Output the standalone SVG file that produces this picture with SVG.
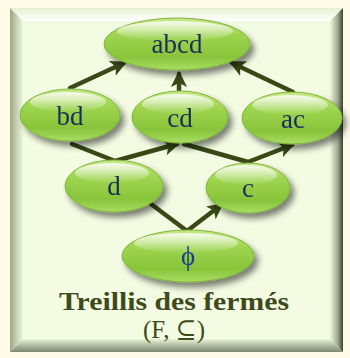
<svg xmlns="http://www.w3.org/2000/svg" width="350" height="358" viewBox="0 0 350 358">
  <style>
    .lbl { font-family: "Liberation Serif", "DejaVu Serif", serif; font-size: 27px; fill: #1c2a5c; text-anchor: middle; }
    .title { font-family: "Liberation Serif", "DejaVu Serif", serif; fill: #3e4a1c; text-anchor: middle; }
    .edge { stroke: #3a4816; stroke-width: 4.5; fill: none; stroke-linecap: round; stroke-linejoin: round; marker-end: url(#head); }
    .body { fill: url(#gBody); stroke: #7fb43a; stroke-width: 1; }
    .gloss { fill: url(#gGloss); }
  </style>
  <defs>
    <linearGradient id="gBody" x1="0" y1="0" x2="0" y2="1">
      <stop offset="0" stop-color="#c8ea88"/>
      <stop offset="0.3" stop-color="#a0d652"/>
      <stop offset="0.75" stop-color="#88c43a"/>
      <stop offset="1" stop-color="#aade64"/>
    </linearGradient>
    <linearGradient id="gGloss" x1="0" y1="0" x2="0" y2="1">
      <stop offset="0" stop-color="#ffffff" stop-opacity="0.85"/>
      <stop offset="1" stop-color="#ffffff" stop-opacity="0"/>
    </linearGradient>
    <linearGradient id="gTop" x1="0" y1="0" x2="0" y2="1">
      <stop offset="0" stop-color="#e8f0d0"/>
      <stop offset="1" stop-color="#ffffff"/>
    </linearGradient>
    <linearGradient id="gLeft" x1="0" y1="0" x2="1" y2="0">
      <stop offset="0" stop-color="#9aa888"/>
      <stop offset="1" stop-color="#eef8da"/>
    </linearGradient>
    <linearGradient id="gRight" x1="0" y1="0" x2="1" y2="0">
      <stop offset="0" stop-color="#eef8da"/>
      <stop offset="0.6" stop-color="#a0a890"/>
      <stop offset="1" stop-color="#3a4036"/>
    </linearGradient>
    <linearGradient id="gBottom" x1="0" y1="0" x2="0" y2="1">
      <stop offset="0" stop-color="#e8f2d4"/>
      <stop offset="1" stop-color="#7c8672"/>
    </linearGradient>
    <filter id="shadow" x="-20%" y="-30%" width="150%" height="170%">
      <feGaussianBlur in="SourceAlpha" stdDeviation="3"/>
      <feOffset dx="4" dy="5" result="b"/>
      <feComponentTransfer><feFuncA type="linear" slope="0.5"/></feComponentTransfer>
      <feMerge><feMergeNode/><feMergeNode in="SourceGraphic"/></feMerge>
    </filter>
    <marker id="head" viewBox="0 0 10 10" refX="8" refY="5" markerWidth="3.6" markerHeight="3.6" orient="auto" markerUnits="strokeWidth">
      <path d="M0,0 L10,5 L0,10 L2.5,5 Z" fill="#3a4816"/>
    </marker>
  </defs>

  <!-- page and bevelled panel -->
  <rect width="350" height="358" fill="#fefbe9"/>
  <rect x="10" y="8" width="333" height="344" fill="#f3fbe0"/>
  <polygon points="10,8 343,8 330,21 23,21" fill="url(#gTop)"/>
  <polygon points="10,8 23,21 23,339 10,352" fill="url(#gLeft)"/>
  <polygon points="343,8 343,352 330,339 330,21" fill="url(#gRight)"/>
  <polygon points="10,352 23,339 330,339 343,352" fill="url(#gBottom)"/>
  <rect x="23" y="21" width="307" height="318" fill="#f3fce2"/>

  <!-- connectors -->
  <g id="edges">
    <line class="edge" x1="70" y1="88" x2="124" y2="63"/>
    <line class="edge" x1="179" y1="90" x2="179" y2="74"/>
    <line class="edge" x1="293" y1="92" x2="232" y2="63"/>
    <polyline class="edge" points="72,144 115,161 177,144"/>
    <polyline class="edge" points="184,144 248,162 292,145"/>
    <polyline class="edge" points="151,204 187,231 221,205"/>
  </g>

  <!-- nodes -->
  <g id="n-abcd" filter="url(#shadow)">
    <ellipse class="body" cx="177" cy="44" rx="73" ry="26"/>
    <ellipse class="gloss" cx="175" cy="31" rx="58" ry="10"/>
    <text class="lbl" x="177" y="53">abcd</text>
  </g>
  <g id="n-bd" filter="url(#shadow)">
    <ellipse class="body" cx="70" cy="115" rx="50" ry="26"/>
    <ellipse class="gloss" cx="68" cy="102" rx="38" ry="10"/>
    <text class="lbl" x="70" y="125">bd</text>
  </g>
  <g id="n-cd" filter="url(#shadow)">
    <ellipse class="body" cx="180" cy="117" rx="48" ry="26"/>
    <ellipse class="gloss" cx="178" cy="104" rx="36" ry="10"/>
    <text class="lbl" x="180" y="127">cd</text>
  </g>
  <g id="n-ac" filter="url(#shadow)">
    <ellipse class="body" cx="292" cy="118" rx="50" ry="26"/>
    <ellipse class="gloss" cx="290" cy="105" rx="38" ry="10"/>
    <text class="lbl" x="293" y="128">ac</text>
  </g>
  <g id="n-d" filter="url(#shadow)">
    <ellipse class="body" cx="114" cy="186" rx="49" ry="26"/>
    <ellipse class="gloss" cx="112" cy="173" rx="37" ry="10"/>
    <text class="lbl" x="114" y="195">d</text>
  </g>
  <g id="n-c" filter="url(#shadow)">
    <ellipse class="body" cx="248" cy="188" rx="42" ry="25"/>
    <ellipse class="gloss" cx="246" cy="175" rx="31" ry="10"/>
    <text class="lbl" x="248" y="197">c</text>
  </g>
  <g id="n-phi" filter="url(#shadow)">
    <ellipse class="body" cx="188" cy="256" rx="66" ry="26"/>
    <ellipse class="gloss" cx="186" cy="243" rx="52" ry="10"/>
    <text class="lbl" x="188" y="265" style="fill:#1a3a8c">ϕ</text>
  </g>

  <!-- caption -->
  <text class="title" x="174" y="310" font-size="25" font-weight="bold" textLength="230" lengthAdjust="spacingAndGlyphs">Treillis des fermés</text>
  <text class="title" x="174" y="338" font-size="25">(F, ⊆)</text>
</svg>
